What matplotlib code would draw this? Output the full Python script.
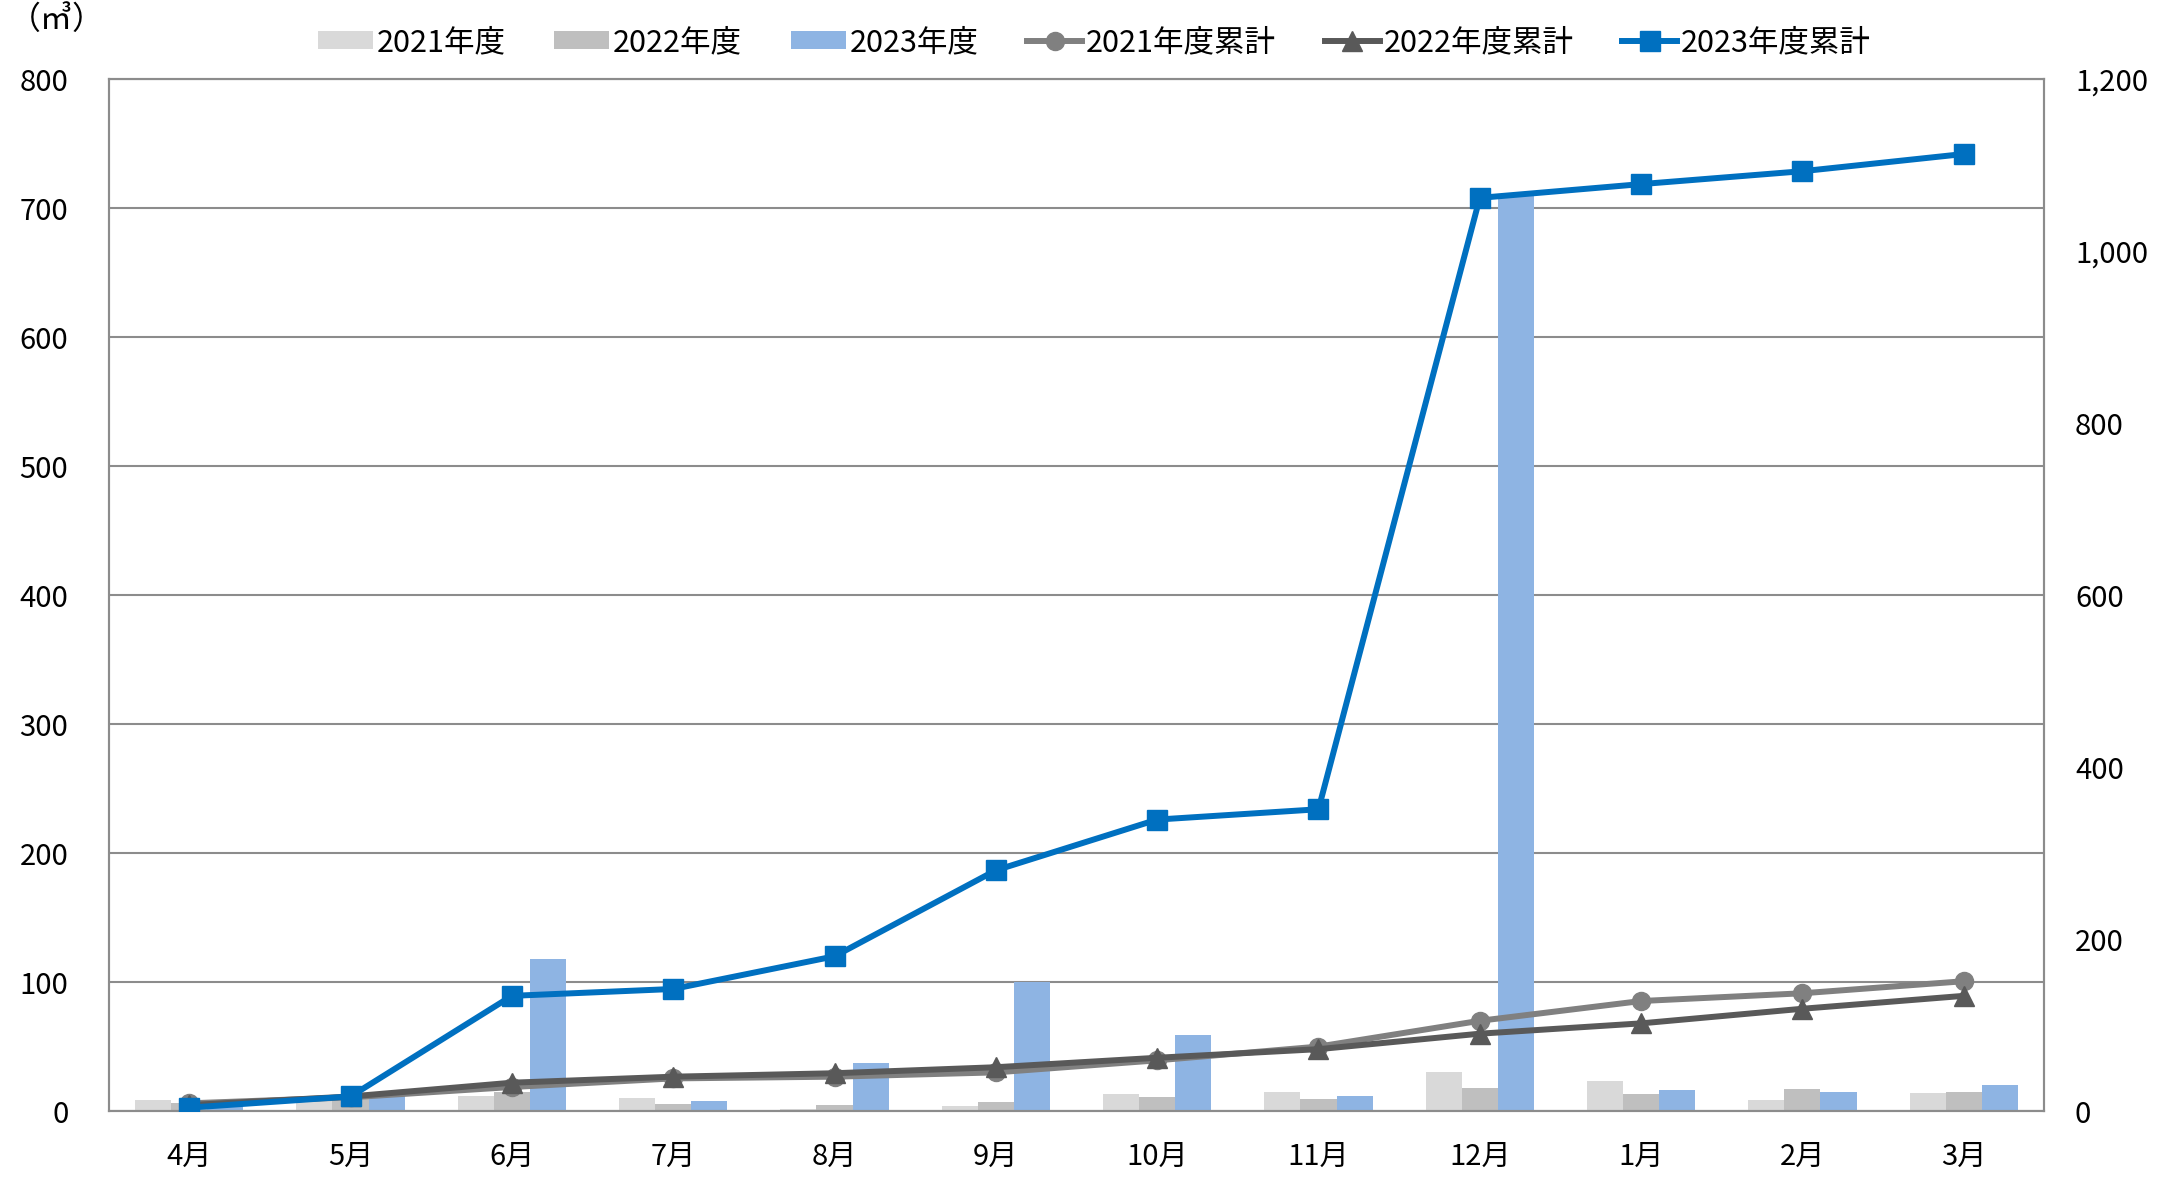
import matplotlib
matplotlib.use('Agg')
import matplotlib.pyplot as plt
import numpy as np

plt.rcParams['font.family'] = ['Noto Sans CJK JP', 'DejaVu Sans']

# Months (fiscal year order)
months = ['4月', '5月', '6月', '7月', '8月', '9月', '10月', '11月', '12月', '1月', '2月', '3月']

# Monthly volumes (left axis, m3)
vol_2021 = [8.5, 8, 12, 10, 1.5, 4, 13, 15, 30, 23, 8.5, 14]
vol_2022 = [6.5, 9.5, 15, 5.7, 5, 6.7, 11, 9, 18, 13, 17, 15]
vol_2023 = [5, 12, 118, 7.5, 37, 100, 59, 12, 710, 16, 15, 20]

# Cumulative volumes (right axis, m3)
cum_2021 = [9, 16, 28, 38, 40, 45, 59, 75, 105, 128, 137, 151]
cum_2022 = [7, 17, 33, 40, 44, 51, 62, 72, 90, 102, 119, 134]
cum_2023 = [4, 17, 134, 142, 180, 280, 339, 351, 1062, 1078, 1093, 1113]

colors = {
    'bar21': '#D9D9D9',
    'bar22': '#BFBFBF',
    'bar23': '#8EB4E3',
    'cum21': '#808080',
    'cum22': '#595959',
    'cum23': '#0070C0',
    'grid': '#8C8C8C',
}

fig = plt.figure(figsize=(21.8, 11.82), dpi=100)
ax1 = fig.add_axes([0.0498, 0.060, 0.888, 0.873])

x = np.arange(len(months))
w = 0.224
b1 = ax1.bar(x - w, vol_2021, w, color=colors['bar21'], label='2021年度', zorder=2)
b2 = ax1.bar(x, vol_2022, w, color=colors['bar22'], label='2022年度', zorder=2)
b3 = ax1.bar(x + w, vol_2023, w, color=colors['bar23'], label='2023年度', zorder=2)

ax1.set_ylim(0, 800)
ax1.set_yticks(range(0, 801, 100))
ax1.set_xlim(-0.5, len(months) - 0.5)
ax1.set_xticks(x)
ax1.set_xticklabels(months)
ax1.grid(axis='y', color=colors['grid'], linewidth=1.5, zorder=0)
ax1.set_axisbelow(True)
ax1.tick_params(axis='x', length=0, pad=22, labelsize=21)
ax1.tick_params(axis='y', length=0, pad=29, labelsize=21)

ax2 = ax1.twinx()
l1, = ax2.plot(x, cum_2021, color=colors['cum21'], linewidth=4.3, marker='o',
               markersize=13, label='2021年度累計', zorder=3)
l2, = ax2.plot(x, cum_2022, color=colors['cum22'], linewidth=4.3, marker='^',
               markersize=15, label='2022年度累計', zorder=4)
l3, = ax2.plot(x, cum_2023, color=colors['cum23'], linewidth=4.3, marker='s',
               markersize=14, label='2023年度累計', zorder=5)
ax2.set_ylim(0, 1200)
ax2.set_yticks(range(0, 1201, 200))
ax2.set_yticklabels([f'{v:,}' for v in range(0, 1201, 200)])
ax2.tick_params(axis='y', length=0, pad=22, labelsize=21)

for ax in (ax1, ax2):
    for s in ax.spines.values():
        s.set_color(colors['grid'])
        s.set_linewidth(1.5)

fig.text(0.004, 0.983, '（㎥）', fontsize=23, ha='left', va='center')

fig.legend([b1, b2, b3, l1, l2, l3],
           ['2021年度', '2022年度', '2023年度', '2021年度累計', '2022年度累計', '2023年度累計'],
           loc='center', bbox_to_anchor=(0.502, 0.964), ncol=6, frameon=False,
           fontsize=22, handlelength=1.8, handletextpad=0.12, columnspacing=1.6,
           handleheight=0.55)

plt.savefig('out.png', dpi=100, facecolor='white')
plt.close()
